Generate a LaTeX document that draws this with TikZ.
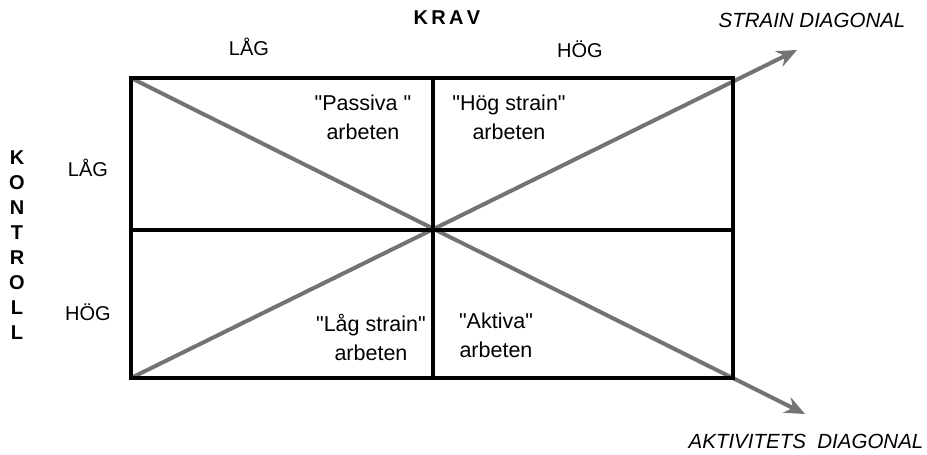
\documentclass[tikz,border=0pt]{standalone}
\usepackage{fontspec}
\setmainfont{Liberation Sans}[Ligatures=TeXOff]
\usetikzlibrary{arrows.meta}

\tikzset{
  cell/.style={align=center, font=\fontsize{21.5}{29}\selectfont, inner sep=0pt},
  axislabel/.style={font=\fontsize{20}{22}\selectfont, inner sep=0pt},
  boldlabel/.style={font=\fontsize{20}{22}\selectfont\bfseries, inner sep=0pt},
  itlabel/.style={font=\fontsize{20.5}{22}\selectfont\itshape, inner sep=0pt},
  diag/.style={draw=black!55, line width=4pt, -{Stealth[length=20pt, width=17pt]}},
}

\begin{document}
\begin{tikzpicture}[x=1pt, y=-1pt]
\useasboundingbox (0, 0) rectangle (927, 455);
\coordinate (tl) at (131, 78);
\coordinate (br) at (733, 378);
\coordinate (bl) at (131, 378);
\coordinate (strainend) at (797, 50);
\coordinate (aktivend) at (805, 414);
% diagonals
\draw [diag] (bl) -- (strainend);
\draw [diag] (tl) -- (aktivend);
% the four-field table
\draw [line width=3.2pt] (tl) rectangle (br);
\draw [line width=3.2pt] (433, 78) -- (433, 378);
\draw [line width=3.2pt] (131, 230) -- (733, 230);
% headings
\node [boldlabel] (krav) at (447, 18) {K\,R\,A\,V};
\node [axislabel] (kravlag) at (249, 47) {LÅG};
\node [axislabel] (kravhog) at (580, 49) {HÖG};
\node [axislabel] (kontlag) at (88, 168) {LÅG};
\node [axislabel] (konthog) at (88, 312) {HÖG};
\foreach \letter [count=\i] in {K, O, N, T, R, O, L, L} {
  \node [boldlabel] (kont\i) at (17, 133 + 25*\i) {\letter};
}
\node [itlabel] (strain) at (812, 20) {STRAIN DIAGONAL};
\node [itlabel] (aktiv) at (806, 441) {AKTIVITETS\ \ DIAGONAL};
% cells
\node [cell] (passiva) at (363, 117) {"Passiva "\\arbeten};
\node [cell] (hogstrain) at (509, 117) {"Hög strain"\\arbeten};
\node [cell] (lagstrain) at (371, 337) {"Låg strain"\\arbeten};
\node [cell] (aktiva) at (496, 335) {"Aktiva"\\arbeten};
\end{tikzpicture}
\end{document}
